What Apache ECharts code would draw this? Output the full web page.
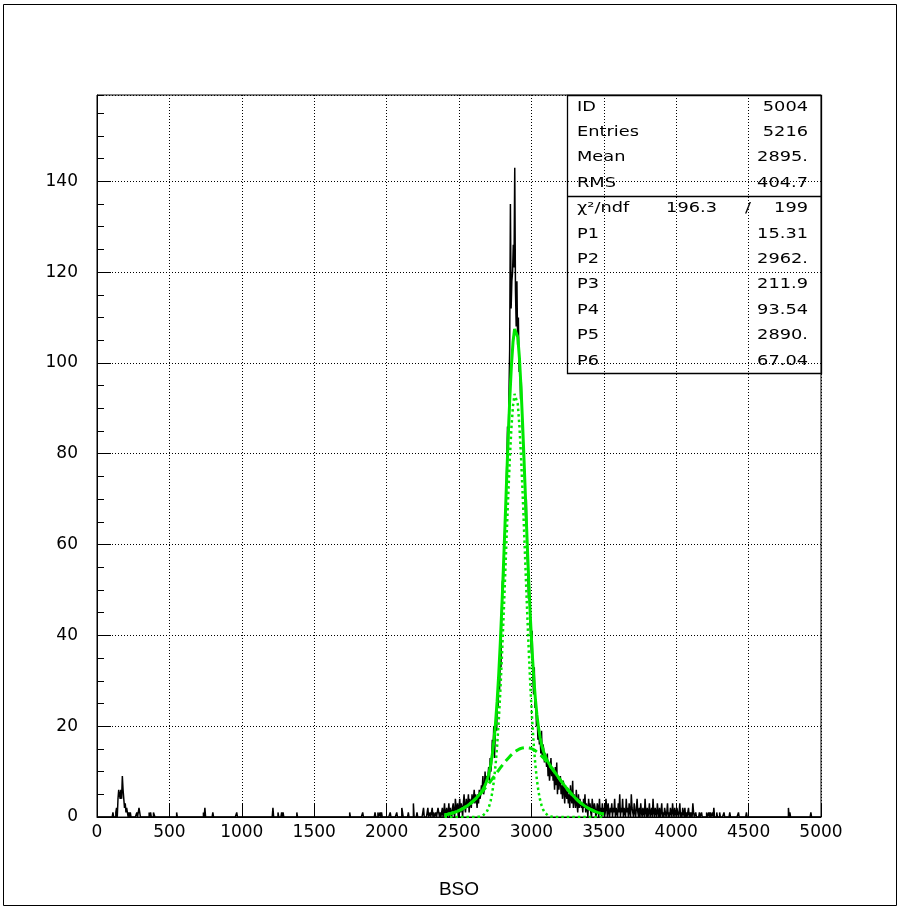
<!DOCTYPE html>
<html>
<head>
<meta charset="utf-8">
<title>BSO</title>
<script src="https://cdn.jsdelivr.net/npm/echarts/dist/echarts.min.js"></script>
<style>
  html, body { margin: 0; padding: 0; background: #fff; }
  #chart { width: 898px; height: 908px; }
</style>
</head>
<body>
<div id="chart"></div>
<script>
// ---- histogram binning (ID 5004) ----
const BIN_WIDTH = 5;
const X_MIN = 0;
const X_MAX = 5000;
const Y_MAX = 159;

// isolated bins outside the main peak: bin low edge and content
const lowBinStarts = [110,130,135,145,150,155,160,165,170,175,180,185,190,195,200,205,210,220,230,275,
  290,295,360,370,390,395,550,735,745,800,965,1215,1250,1275,1285,1380,1745,1835,1920,1940,
  1955,1965,2025,2070,2105,2110,2150,2185,2210,2255,2285];
const lowCounts = [1,1,2,4,6,5,4,6,4,9,6,4,2,3,1,2,2,1,1,1,
  2,1,1,1,1,1,1,1,2,1,1,2,1,1,1,1,1,1,1,1,
  1,1,1,1,2,1,1,3,1,2,2];

const highBinStarts = [4160,4175,4210,4225,4235,4250,4260,4280,4300,4330,4370,4430,4485,4775,4785,4930];
const highCounts = [1,1,1,1,1,1,2,1,1,1,1,1,1,2,1,1];

// contiguous bin contents from 2300 upward (10 bins per row = 50 units)
const peakStart = 2300;
const peakCounts = [
  1,0,0,2,0,1,0,0,1,0,
  0,2,1,0,1,0,1,2,0,1,
  3,0,1,2,0,1,3,0,2,1,
  0,2,3,1,0,4,2,1,3,0,
  2,4,1,3,2,0,3,5,2,1,
  4,2,3,5,1,4,3,2,5,3,
  4,6,3,5,4,2,5,3,6,4,
  5,7,6,9,5,6,10,7,9,8,
  9,11,8,13,10,12,17,14,20,13,
  18,22,19,26,24,30,28,35,33,47,
  52,50,57,62,66,70,78,86,80,93,
  103,135,112,118,120,126,121,143,116,108,
  118,104,110,98,101,92,96,88,84,80,
  78,72,66,70,58,55,48,52,43,40,
  36,41,31,27,33,24,26,20,22,17,
  20,16,18,14,19,13,16,15,12,14,
  13,11,14,9,12,8,10,13,9,11,
  8,10,6,11,7,12,5,9,6,8,
  9,5,7,4,8,6,3,7,5,4,
  6,3,5,2,7,4,3,8,2,5,
  4,2,6,3,1,5,2,4,3,2,
  3,1,4,2,5,1,3,2,0,4,
  2,3,1,0,4,2,1,3,2,0,
  1,3,2,0,4,1,2,0,3,1,
  2,0,1,4,2,0,3,1,0,2,
  1,3,0,2,1,4,0,2,1,0,
  3,1,5,0,2,1,4,0,2,1,
  0,4,1,2,0,3,1,0,5,2,
  1,0,3,1,0,2,4,1,0,2,
  0,3,1,0,2,1,0,4,1,0,
  2,0,1,3,0,1,2,0,4,1,
  0,2,1,0,3,1,0,2,0,1,
  3,0,1,0,2,1,0,1,3,0,
  1,0,2,1,0,3,1,0,2,1,
  0,2,1,0,1,3,0,1,0,2,
  1,0,2,0,1,0,1,2,0,1,
  0,1,0,3,1,0,0,1,0,0
];

// ---- statistics box ----
const statNames = ['ID', 'Entries', 'Mean', 'RMS'];
const statValues = ['5004', '5216', '2895.', '404.7'];
const chi2Value = '196.3';
const ndfValue = '199';
const parNames = ['P1', 'P2', 'P3', 'P4', 'P5', 'P6'];
const parValues = ['15.31', '2962.', '211.9', '93.54', '2890.', '67.04'];

// fit: P1*gaus(P2,P3) + P4*gaus(P5,P6) over the fit range
const fitRange = [2400, 3500];
const fitPoints = 100;

// ---- axes ----
const xTickStep = 500;
const yTickStep = 20;
const yMinorStep = 5;
const xTitle = 'BSO';

// ---- build histogram contents ----
const nBins = (X_MAX - X_MIN) / BIN_WIDTH;
const contents = new Array(nBins).fill(0);
lowBinStarts.forEach((x, i) => { contents[Math.round((x - X_MIN) / BIN_WIDTH)] = lowCounts[i]; });
highBinStarts.forEach((x, i) => { contents[Math.round((x - X_MIN) / BIN_WIDTH)] = highCounts[i]; });
peakCounts.forEach((c, i) => { contents[Math.round((peakStart - X_MIN) / BIN_WIDTH) + i] = c; });

const histData = contents.map((c, i) => [X_MIN + i * BIN_WIDTH, c]);
histData.push([X_MAX, contents[nBins - 1]]);

// ---- fit curves from the printed parameters ----
const P = parValues.map(parseFloat);
const gaus = (x, a, m, s) => a * Math.exp(-0.5 * ((x - m) / s) * ((x - m) / s));
const fitTotal = [], fitBroad = [], fitNarrow = [];
for (let k = 0; k <= fitPoints; k++) {
  const x = fitRange[0] + (fitRange[1] - fitRange[0]) * k / fitPoints;
  const g1 = gaus(x, P[0], P[1], P[2]);
  const g2 = gaus(x, P[3], P[4], P[5]);
  fitTotal.push([x, g1 + g2]);
  fitBroad.push([x, g1]);
  fitNarrow.push([x, g2]);
}

// ---- layout ----
const G = { left: 97, top: 95, width: 724, height: 722 };
const BOX = { x: 567, y: 95, w: 254, h: 278, split: 196 };
const ROW0 = 107, ROW_STEP = 25.4;
const TXT_LEFT = 577, TXT_RIGHT = 808;
const FIT_GREEN = '#00e800';
const statFont = '14px "DejaVu Sans"';
const SX = 1.27;

function label(text, x, y, align) {
  return {
    type: 'text', x: x, y: y, scaleX: SX, scaleY: 1, silent: true, z: 20,
    style: {
      text: text, font: statFont, fill: '#000',
      align: align, textAlign: align,
      verticalAlign: 'middle', textVerticalAlign: 'middle'
    }
  };
}

const graphics = [];
// outer frame
graphics.push({
  type: 'rect', silent: true, z: 1,
  shape: { x: 3.5, y: 4.5, width: 893, height: 901 },
  style: { fill: 'none', stroke: '#000', lineWidth: 1 }
});
// statistics box
graphics.push({
  type: 'rect', silent: true, z: 20,
  shape: { x: BOX.x + 0.5, y: BOX.y + 0.5, width: BOX.w, height: BOX.h },
  style: { fill: 'none', stroke: '#000', lineWidth: 1.3 }
});
graphics.push({
  type: 'line', silent: true, z: 20,
  shape: { x1: BOX.x, y1: BOX.split + 0.5, x2: BOX.x + BOX.w, y2: BOX.split + 0.5 },
  style: { stroke: '#000', lineWidth: 1.3 }
});
statNames.forEach((n, i) => {
  graphics.push(label(n, TXT_LEFT, ROW0 + i * ROW_STEP, 'left'));
  graphics.push(label(statValues[i], TXT_RIGHT, ROW0 + i * ROW_STEP, 'right'));
});
const chiRow = ROW0 + 4 * ROW_STEP;
graphics.push(label('\u03c7\u00b2/ndf', TXT_LEFT, chiRow, 'left'));
graphics.push(label(chi2Value, 717, chiRow, 'right'));
graphics.push(label('/', 748, chiRow, 'center'));
graphics.push(label(ndfValue, TXT_RIGHT, chiRow, 'right'));
parNames.forEach((n, i) => {
  const y = ROW0 + (5 + i) * ROW_STEP;
  graphics.push(label(n, TXT_LEFT, y, 'left'));
  graphics.push(label(parValues[i], TXT_RIGHT, y, 'right'));
});

// tick labels go through a rich-text style so their size is fixed
const tickText = v => '{t|' + v + '}';
const tickRich = { t: { fontFamily: 'DejaVu Sans', fontSize: 17, color: '#000' } };
const dotted = { color: '#000', width: 1, type: [1, 2] };

const chart = echarts.init(document.getElementById('chart'), null, { renderer: 'canvas' });
chart.setOption({
  animation: false,
  backgroundColor: '#fff',
  grid: Object.assign({ show: true, borderColor: '#000', borderWidth: 1, backgroundColor: 'transparent' }, G),
  xAxis: {
    type: 'value', min: X_MIN, max: X_MAX, interval: xTickStep,
    name: xTitle, nameLocation: 'middle', nameGap: 63,
    nameTextStyle: { fontFamily: 'Liberation Sans', fontSize: 19, color: '#000' },
    axisLine: { show: true, lineStyle: { color: '#000', width: 1 } },
    axisTick: { show: true, inside: true, length: 14, lineStyle: { color: '#000', width: 1 } },
    axisLabel: { margin: 7, formatter: tickText, rich: tickRich, fontSize: 17, fontFamily: 'DejaVu Sans', color: '#000' },
    splitLine: { show: true, lineStyle: dotted }
  },
  yAxis: [{
    type: 'value', min: 0, max: Y_MAX, interval: yTickStep,
    axisLine: { show: true, lineStyle: { color: '#000', width: 1 } },
    axisTick: { show: true, inside: true, length: 14, lineStyle: { color: '#000', width: 1 } },
    axisLabel: { margin: 19, showMaxLabel: false, formatter: tickText, rich: tickRich, fontSize: 17, fontFamily: 'DejaVu Sans', color: '#000' },
    splitLine: { show: true, lineStyle: dotted }
  }, {
    type: 'value', min: 0, max: Y_MAX, interval: yMinorStep, position: 'left',
    axisLine: { show: false },
    axisTick: { show: true, inside: true, length: 7, lineStyle: { color: '#000', width: 1 } },
    axisLabel: { show: false },
    splitLine: { show: false }
  }],
  graphic: graphics,
  series: [{
    name: 'ID 5004', type: 'line', step: 'end', data: histData,
    showSymbol: false, symbol: 'none', z: 3,
    lineStyle: { color: '#000', width: 1.5 }
  }, {
    name: 'P4 gaus', type: 'line', data: fitNarrow, showSymbol: false, symbol: 'none', smooth: false, z: 4,
    lineStyle: { color: FIT_GREEN, width: 2.5, type: [2.5, 3] }
  }, {
    name: 'P1 gaus', type: 'line', data: fitBroad, showSymbol: false, symbol: 'none', smooth: false, z: 4,
    lineStyle: { color: FIT_GREEN, width: 3, type: [9, 5] }
  }, {
    name: 'fit', type: 'line', data: fitTotal, showSymbol: false, symbol: 'none', smooth: false, z: 5,
    lineStyle: { color: FIT_GREEN, width: 3 }
  }]
});
</script>
</body>
</html>
